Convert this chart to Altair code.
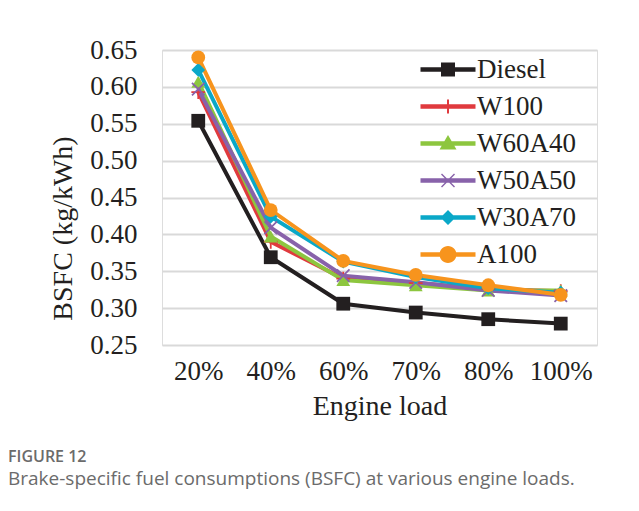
import altair as alt
import pandas as pd

loads = ["20%", "40%", "60%", "70%", "80%", "100%"]
series = ["Diesel", "W100", "W60A40", "W50A50", "W30A70", "A100"]
diesel = [0.554, 0.369, 0.306, 0.294, 0.285, 0.279]
w100 = [0.593, 0.390, 0.340, 0.334, 0.326, 0.323]
w60a40 = [0.607, 0.397, 0.338, 0.331, 0.324, 0.324]
w50a50 = [0.597, 0.409, 0.344, 0.335, 0.324, 0.317]
w30a70 = [0.623, 0.424, 0.363, 0.342, 0.327, 0.321]
a100 = [0.640, 0.433, 0.364, 0.345, 0.331, 0.318]
colors = ["#231f20", "#e03a3e", "#8dc63f", "#8862aa", "#0aa8c8", "#f7941d"]
y_ticks = [0.25, 0.30, 0.35, 0.40, 0.45, 0.50, 0.55, 0.60, 0.65]

values = [diesel, w100, w60a40, w50a50, w30a70, a100]
rows = []
for s, vals in zip(series, values):
    for l, v in zip(loads, vals):
        rows.append({"load": l, "series": s, "bsfc": v})
df = pd.DataFrame(rows)

# marker shapes used on the plot
plus_path = "M-1,-0.13L1,-0.13L1,0.13L-1,0.13Z M-0.13,-1L0.13,-1L0.13,1L-0.13,1Z"
x_path = ("M-0.82,-1L1,0.82L0.82,1L-1,-0.82Z "
          "M0.82,-1L1,-0.82L-0.82,1L-1,0.82Z")
plot_shapes = ["square", plus_path, "triangle-up", x_path, "diamond", "circle"]

# legend symbols: line segment + marker (units of 10px)
line_seg = "M-1,-0.22L4.5,-0.22L4.5,0.22L-1,0.22Z "
cx = 1.75
leg_shapes = [
    line_seg + f"M{cx-0.7},-0.7L{cx+0.7},-0.7L{cx+0.7},0.7L{cx-0.7},0.7Z",
    line_seg + f"M{cx-0.7},-0.1L{cx+0.7},-0.1L{cx+0.7},0.1L{cx-0.7},0.1Z M{cx-0.1},-0.7L{cx+0.1},-0.7L{cx+0.1},0.7L{cx-0.1},0.7Z",
    line_seg + f"M{cx},-0.85L{cx+0.85},0.6L{cx-0.85},0.6Z",
    line_seg + f"M{cx-0.6},-0.7L{cx+0.7},0.6L{cx+0.6},0.7L{cx-0.7},-0.6Z M{cx+0.6},-0.7L{cx+0.7},-0.6L{cx-0.6},0.7L{cx-0.7},0.6Z",
    line_seg + f"M{cx},-0.75L{cx+0.75},0L{cx},0.75L{cx-0.75},0Z",
    line_seg + f"M{cx+0.85},0A0.85,0.85 0 1,1 {cx-0.85},0A0.85,0.85 0 1,1 {cx+0.85},0Z",
]

serif = "Liberation Serif"
ink = "#231f20"

x_enc = alt.X("load:N", sort=loads,
              scale=alt.Scale(domain=loads, type="point", padding=0.5),
              axis=alt.Axis(title="Engine load", labelAngle=0, labelFont=serif,
                            labelFontSize=27, labelColor=ink, labelPadding=13,
                            titleFont=serif, titleFontSize=28, titleFontWeight="normal",
                            titleColor=ink, titlePadding=8,
                            ticks=False, domain=False, grid=False))
y_enc = alt.Y("bsfc:Q",
              scale=alt.Scale(domain=[0.25, 0.65], nice=False, zero=False),
              axis=alt.Axis(title="BSFC (kg/kWh)", values=y_ticks, format=".2f",
                            labelFont=serif, labelFontSize=27, labelColor=ink,
                            labelPadding=25, titleFont=serif, titleFontSize=28,
                            titleFontWeight="normal", titleColor=ink,
                            titlePadding=12, titleY=178, ticks=False, domain=False,
                            grid=True, gridColor="#d9d9d9", gridWidth=2))

color_scale = alt.Scale(domain=series, range=colors)

lines = alt.Chart(df).mark_line(strokeWidth=4).encode(
    x=x_enc, y=y_enc,
    color=alt.Color("series:N", scale=color_scale, legend=None),
)

points = alt.Chart(df).mark_point(filled=True, opacity=1, size=190, strokeWidth=0).encode(
    x=x_enc, y=y_enc,
    color=alt.Color("series:N", scale=color_scale, legend=None),
    shape=alt.Shape("series:N", scale=alt.Scale(domain=series, range=plot_shapes), legend=None),
)

leg = alt.Legend(title=None, orient="none", legendX=255, legendY=6,
                 symbolSize=400, symbolStrokeWidth=0, symbolOpacity=1,
                 labelFont=serif, labelFontSize=27, labelColor=ink,
                 labelOffset=33, rowPadding=9, labelLimit=300)

legend_layer = alt.Chart(df).mark_point(filled=True, opacity=0).encode(
    x=x_enc, y=y_enc,
    color=alt.Color("series:N", scale=color_scale, legend=leg, sort=series),
    shape=alt.Shape("series:N", scale=alt.Scale(domain=series, range=leg_shapes),
                    legend=leg, sort=series),
)

main = alt.layer(lines, points)

chart = alt.layer(main, legend_layer).resolve_scale(
    color="independent", shape="independent"
).properties(
    width=435, height=295,
    autosize=alt.AutoSizeParams(type="none"),
    padding={"left": 162, "top": 50, "right": 42, "bottom": 166},
    title=alt.TitleParams(
        text="FIGURE 12",
        subtitle="Brake-specific fuel consumptions (BSFC) at various engine loads.",
        orient="bottom", anchor="start", frame="group", dx=-154, offset=29,
        font="Open Sans", fontSize=16, fontWeight=600, color="#6b6b6b",
        subtitleFont="Open Sans", subtitleFontSize=19, subtitleColor="#6b6b6b",
        subtitlePadding=5,
    ),
).configure_view(stroke=ink, strokeWidth=2).configure(background="white")

chart.save("out.html", embed_options={"renderer": "svg", "actions": False})
